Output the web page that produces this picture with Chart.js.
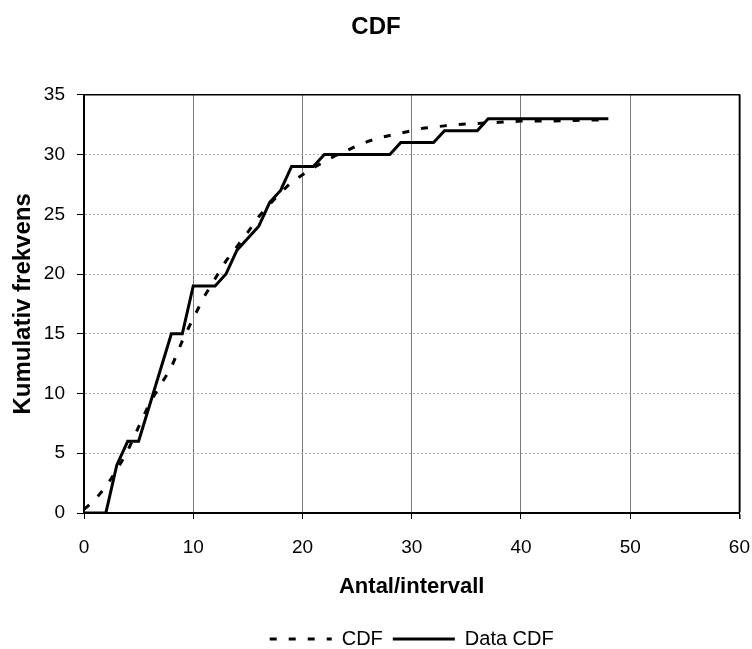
<!DOCTYPE html>
<html>
<head>
<meta charset="utf-8">
<title>CDF</title>
<script src="https://cdn.jsdelivr.net/npm/chart.js@4/dist/chart.umd.min.js"></script>
<style>
  html, body { margin: 0; padding: 0; background: #fff; }
  #wrap { width: 752px; height: 649px; }
</style>
</head>
<body>
<div id="wrap"><canvas id="cdfChart"></canvas></div>
<script>
// Fitted CDF, one value per integer x
const cdfX = [0, 1, 2, 3, 4, 5, 6, 7, 8, 9, 10, 11, 12, 13, 14, 15, 16, 17, 18, 19, 20,
    21, 22, 23, 24, 25, 26, 27, 28, 29, 30, 31, 32, 33, 34, 35, 36, 37, 38, 39, 40,
    41, 42, 43, 44, 45, 46, 47, 48];
const cdfY = [0.3, 1.1, 2.2, 3.6, 5.2, 7.2, 9.2, 10.7, 12.2, 14.4, 16.3, 18.1, 19.6, 21.1, 22.3, 23.5, 24.8, 25.85, 26.8, 27.7, 28.3,
    28.9, 29.4, 29.9, 30.3, 30.75, 31.1, 31.4, 31.6, 31.8, 32.0, 32.2, 32.3, 32.4, 32.5, 32.55, 32.6, 32.65, 32.7, 32.75, 32.8,
    32.8, 32.8, 32.8, 32.85, 32.85, 32.9, 32.9, 32.9];

// Observed (empirical) CDF, corner points
const dataX = [0, 2, 3, 4, 5, 8, 9, 10, 12, 13, 14, 15, 16, 17, 18, 19, 21, 22, 28, 29, 32, 33, 36, 37, 48];
const dataY = [0, 0, 4, 6, 6, 15, 15, 19, 19, 20, 22, 23, 24, 26, 27, 29, 29, 30, 30, 31, 31, 32, 32, 33, 33];

const xTicks = [0, 10, 20, 30, 40, 50, 60];
const yTicks = [0, 5, 10, 15, 20, 25, 30, 35];

const FONT = "'Liberation Sans', Arial, sans-serif";

const toPoints = (xs, ys) => xs.map((x, i) => ({ x: x, y: ys[i] }));

// black frame on the top and right edges of the plot area
const plotFrame = {
    id: 'plotFrame',
    beforeDatasetsDraw(chart) {
        const { ctx, chartArea: a } = chart;
        ctx.save();
        ctx.strokeStyle = '#000';
        ctx.lineWidth = 1.5;
        ctx.beginPath();
        ctx.moveTo(a.left, a.top);
        ctx.lineTo(a.right, a.top);
        ctx.lineTo(a.right, a.bottom);
        ctx.stroke();
        ctx.restore();
    }
};

// legend line samples: keep each dataset's dash pattern
const legendLabels = chart => {
    const items = Chart.defaults.plugins.legend.labels.generateLabels(chart);
    items.forEach(it => {
        const ds = chart.data.datasets[it.datasetIndex];
        it.lineDash = ds.borderDash || [];
        it.lineWidth = ds.borderWidth;
        it.strokeStyle = ds.borderColor;
    });
    return items;
};

new Chart(document.getElementById('cdfChart'), {
    type: 'line',
    data: {
        datasets: [
            {
                label: 'CDF',
                data: toPoints(cdfX, cdfY),
                borderColor: '#000',
                backgroundColor: '#000',
                borderWidth: 3,
                borderDash: [7, 12],
                pointRadius: 0,
                tension: 0
            },
            {
                label: 'Data CDF',
                data: toPoints(dataX, dataY),
                borderColor: '#000',
                backgroundColor: '#000',
                borderWidth: 3,
                pointRadius: 0,
                tension: 0
            }
        ]
    },
    options: {
        responsive: true,
        maintainAspectRatio: false,
        animation: false,
        layout: { padding: { left: 0, right: 0, top: 0, bottom: -10 } },
        plugins: {
            title: {
                display: true,
                text: 'CDF',
                color: '#000',
                font: { family: FONT, size: 24, weight: 'bold' },
                padding: { top: 13, bottom: 53 }
            },
            legend: {
                position: 'bottom',
                fullSize: false,
                labels: {
                    color: '#000',
                    font: { family: FONT, size: 20 },
                    usePointStyle: true,
                    pointStyle: 'line',
                    pointStyleWidth: 62,
                    padding: 10,
                    generateLabels: legendLabels
                }
            },
            tooltip: { enabled: false }
        },
        scales: {
            x: {
                type: 'linear',
                min: 0,
                max: 60,
                afterFit: s => { s.height = 106; },
                afterBuildTicks: s => { s.ticks = xTicks.map(v => ({ value: v })); },
                // tall line box pushes the labels down without widening the right padding
                ticks: { color: '#000', padding: 2, font: { family: FONT, size: 19, lineHeight: 2.78 } },
                grid: {
                    color: c => c.tick && c.tick.value === 60 ? '#000' : '#7a7a7a',
                    lineWidth: c => c.tick && c.tick.value === 60 ? 1.5 : 1,
                    tickColor: '#000',
                    tickLength: 6
                },
                border: { color: '#000', width: 2 },
                title: {
                    display: true,
                    text: 'Antal/intervall',
                    color: '#000',
                    font: { family: FONT, size: 22, weight: 'bold' },
                    padding: { top: 4, bottom: 19 }
                }
            },
            y: {
                type: 'linear',
                min: 0,
                max: 35,
                afterFit: s => { s.width = 84; },
                afterBuildTicks: s => { s.ticks = yTicks.map(v => ({ value: v })); },
                ticks: { color: '#000', padding: 12, font: { family: FONT, size: 19 } },
                grid: {
                    color: '#a8a8a8',
                    tickColor: '#000',
                    tickLength: 7
                },
                border: { color: '#000', width: 2, dash: [2, 2] },
                title: {
                    display: true,
                    text: 'Kumulativ frekvens',
                    color: '#000',
                    font: { family: FONT, size: 24, weight: 'bold' },
                    padding: { top: 9, bottom: 4 }
                }
            }
        }
    },
    plugins: [plotFrame]
});
</script>
</body>
</html>
